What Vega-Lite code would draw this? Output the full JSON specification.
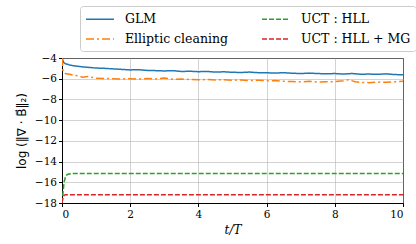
{
  "$schema": "https://vega.github.io/schema/vega-lite/v6.json",
  "width": 341,
  "height": 145,
  "autosize": {"type": "none"},
  "padding": {"left": 62, "top": 58, "right": 13, "bottom": 41},
  "background": "white",
  "config": {
    "view": {"stroke": "black", "strokeWidth": 1},
    "font": "DejaVu Serif",
    "axis": {
      "labelFont": "DejaVu Serif",
      "labelFontSize": 10.5,
      "labelColor": "black",
      "titleFont": "DejaVu Serif",
      "titleFontWeight": "normal",
      "titleColor": "black",
      "titleFontSize": 12,
      "domainColor": "black",
      "tickColor": "black",
      "tickSize": 3.5,
      "gridColor": "#b0b0b0",
      "gridWidth": 0.8,
      "gridOpacity": 0.7
    }
  },
  "data": {
    "values": [
      {"s": "GLM", "t": 0, "v": -4.0},
      {"s": "GLM", "t": 0.05, "v": -4.45},
      {"s": "GLM", "t": 0.1, "v": -4.55},
      {"s": "GLM", "t": 0.25, "v": -4.7},
      {"s": "GLM", "t": 0.5, "v": -4.82},
      {"s": "GLM", "t": 0.75, "v": -4.9},
      {"s": "GLM", "t": 1.0, "v": -4.97},
      {"s": "GLM", "t": 1.25, "v": -5.0},
      {"s": "GLM", "t": 1.5, "v": -5.05},
      {"s": "GLM", "t": 1.75, "v": -5.1},
      {"s": "GLM", "t": 2.0, "v": -5.15},
      {"s": "GLM", "t": 2.25, "v": -5.13},
      {"s": "GLM", "t": 2.5, "v": -5.2},
      {"s": "GLM", "t": 2.75, "v": -5.22},
      {"s": "GLM", "t": 3.0, "v": -5.25},
      {"s": "GLM", "t": 3.25, "v": -5.22},
      {"s": "GLM", "t": 3.5, "v": -5.3},
      {"s": "GLM", "t": 3.75, "v": -5.28},
      {"s": "GLM", "t": 4.0, "v": -5.32},
      {"s": "GLM", "t": 4.25, "v": -5.3},
      {"s": "GLM", "t": 4.5, "v": -5.36},
      {"s": "GLM", "t": 4.75, "v": -5.33},
      {"s": "GLM", "t": 5.0, "v": -5.38},
      {"s": "GLM", "t": 5.25, "v": -5.4},
      {"s": "GLM", "t": 5.5, "v": -5.36},
      {"s": "GLM", "t": 5.75, "v": -5.42},
      {"s": "GLM", "t": 6.0, "v": -5.43},
      {"s": "GLM", "t": 6.25, "v": -5.45},
      {"s": "GLM", "t": 6.5, "v": -5.42},
      {"s": "GLM", "t": 6.75, "v": -5.47},
      {"s": "GLM", "t": 7.0, "v": -5.5},
      {"s": "GLM", "t": 7.25, "v": -5.46},
      {"s": "GLM", "t": 7.5, "v": -5.5},
      {"s": "GLM", "t": 7.75, "v": -5.53},
      {"s": "GLM", "t": 8.0, "v": -5.5},
      {"s": "GLM", "t": 8.25, "v": -5.55},
      {"s": "GLM", "t": 8.5, "v": -5.5},
      {"s": "GLM", "t": 8.75, "v": -5.57},
      {"s": "GLM", "t": 9.0, "v": -5.55},
      {"s": "GLM", "t": 9.25, "v": -5.58},
      {"s": "GLM", "t": 9.5, "v": -5.53},
      {"s": "GLM", "t": 9.75, "v": -5.6},
      {"s": "GLM", "t": 10, "v": -5.62},
      {"s": "Elliptic cleaning", "t": 0, "v": -4.0},
      {"s": "Elliptic cleaning", "t": 0.03, "v": -5.3},
      {"s": "Elliptic cleaning", "t": 0.1, "v": -5.5},
      {"s": "Elliptic cleaning", "t": 0.25, "v": -5.6},
      {"s": "Elliptic cleaning", "t": 0.5, "v": -5.75},
      {"s": "Elliptic cleaning", "t": 0.6, "v": -5.85},
      {"s": "Elliptic cleaning", "t": 0.75, "v": -5.78},
      {"s": "Elliptic cleaning", "t": 1.0, "v": -5.95},
      {"s": "Elliptic cleaning", "t": 1.25, "v": -5.98},
      {"s": "Elliptic cleaning", "t": 1.5, "v": -6.0},
      {"s": "Elliptic cleaning", "t": 1.75, "v": -6.02},
      {"s": "Elliptic cleaning", "t": 2.0, "v": -6.0},
      {"s": "Elliptic cleaning", "t": 2.25, "v": -6.04},
      {"s": "Elliptic cleaning", "t": 2.5, "v": -5.98},
      {"s": "Elliptic cleaning", "t": 2.75, "v": -6.02},
      {"s": "Elliptic cleaning", "t": 3.0, "v": -5.92},
      {"s": "Elliptic cleaning", "t": 3.25, "v": -6.05},
      {"s": "Elliptic cleaning", "t": 3.5, "v": -6.03},
      {"s": "Elliptic cleaning", "t": 3.75, "v": -6.08},
      {"s": "Elliptic cleaning", "t": 4.0, "v": -6.1},
      {"s": "Elliptic cleaning", "t": 4.25, "v": -6.08},
      {"s": "Elliptic cleaning", "t": 4.5, "v": -6.12},
      {"s": "Elliptic cleaning", "t": 4.75, "v": -6.1},
      {"s": "Elliptic cleaning", "t": 5.0, "v": -6.15},
      {"s": "Elliptic cleaning", "t": 5.25, "v": -6.12},
      {"s": "Elliptic cleaning", "t": 5.5, "v": -6.18},
      {"s": "Elliptic cleaning", "t": 5.75, "v": -6.15},
      {"s": "Elliptic cleaning", "t": 6.0, "v": -6.2},
      {"s": "Elliptic cleaning", "t": 6.25, "v": -6.18},
      {"s": "Elliptic cleaning", "t": 6.5, "v": -6.25},
      {"s": "Elliptic cleaning", "t": 6.75, "v": -6.28},
      {"s": "Elliptic cleaning", "t": 7.0, "v": -6.3},
      {"s": "Elliptic cleaning", "t": 7.25, "v": -6.25},
      {"s": "Elliptic cleaning", "t": 7.5, "v": -6.32},
      {"s": "Elliptic cleaning", "t": 7.75, "v": -6.3},
      {"s": "Elliptic cleaning", "t": 8.0, "v": -6.28},
      {"s": "Elliptic cleaning", "t": 8.25, "v": -6.2},
      {"s": "Elliptic cleaning", "t": 8.4, "v": -6.1},
      {"s": "Elliptic cleaning", "t": 8.6, "v": -6.3},
      {"s": "Elliptic cleaning", "t": 8.75, "v": -6.35},
      {"s": "Elliptic cleaning", "t": 9.0, "v": -6.38},
      {"s": "Elliptic cleaning", "t": 9.25, "v": -6.32},
      {"s": "Elliptic cleaning", "t": 9.5, "v": -6.35},
      {"s": "Elliptic cleaning", "t": 9.75, "v": -6.3},
      {"s": "Elliptic cleaning", "t": 10, "v": -6.25},
      {"s": "UCT : HLL", "t": 0, "v": -18},
      {"s": "UCT : HLL", "t": 0.03, "v": -17},
      {"s": "UCT : HLL", "t": 0.06, "v": -16},
      {"s": "UCT : HLL", "t": 0.1, "v": -15.5},
      {"s": "UCT : HLL", "t": 0.15, "v": -15.25},
      {"s": "UCT : HLL", "t": 0.3, "v": -15.15},
      {"s": "UCT : HLL", "t": 10, "v": -15.15},
      {"s": "UCT : HLL + MG", "t": 0, "v": -18},
      {"s": "UCT : HLL + MG", "t": 0.03, "v": -17.5},
      {"s": "UCT : HLL + MG", "t": 0.06, "v": -17.25},
      {"s": "UCT : HLL + MG", "t": 0.1, "v": -17.2},
      {"s": "UCT : HLL + MG", "t": 10, "v": -17.2}
    ]
  },
  "mark": {"type": "line", "strokeWidth": 1.5, "clip": true, "interpolate": "linear"},
  "encoding": {
    "x": {
      "field": "t", "type": "quantitative",
      "scale": {"domain": [0, 10], "nice": false},
      "axis": {"values": [0, 2, 4, 6, 8, 10], "title": "t/T", "titleFontStyle": "italic", "titlePadding": 4, "labelPadding": 3}
    },
    "y": {
      "field": "v", "type": "quantitative",
      "scale": {"domain": [-18, -4], "nice": false, "zero": false},
      "axis": {"values": [-18, -16, -14, -12, -10, -8, -6, -4], "title": "log (‖∇ · B⃗‖₂)", "titleFont": "DejaVu Sans", "titlePadding": 6}
    },
    "color": {
      "field": "s", "type": "nominal", "title": null,
      "scale": {
        "domain": ["GLM", "Elliptic cleaning", "UCT : HLL", "UCT : HLL + MG"],
        "range": ["#1f77b4", "#ff7f0e", "#2ca02c", "#d62728"]
      },
      "legend": {
        "orient": "none", "legendX": 18, "legendY": -52,
        "columns": 2, "columnPadding": 30, "rowPadding": 5,
        "symbolType": "M-1,0H3", "symbolSize": 196, "symbolStrokeWidth": 1.5,
        "labelFont": "DejaVu Serif", "labelFontSize": 12.5, "labelColor": "black",
        "labelOffset": 24,
        "strokeColor": "#cccccc", "fillColor": "white", "cornerRadius": 3, "padding": 5
      }
    },
    "strokeDash": {
      "field": "s", "type": "nominal", "title": null,
      "scale": {
        "domain": ["GLM", "Elliptic cleaning", "UCT : HLL", "UCT : HLL + MG"],
        "range": [[1, 0], [8, 3, 2, 3], [5, 2], [5, 2]]
      }
    },
    "order": {"field": "t", "type": "quantitative"}
  }
}
